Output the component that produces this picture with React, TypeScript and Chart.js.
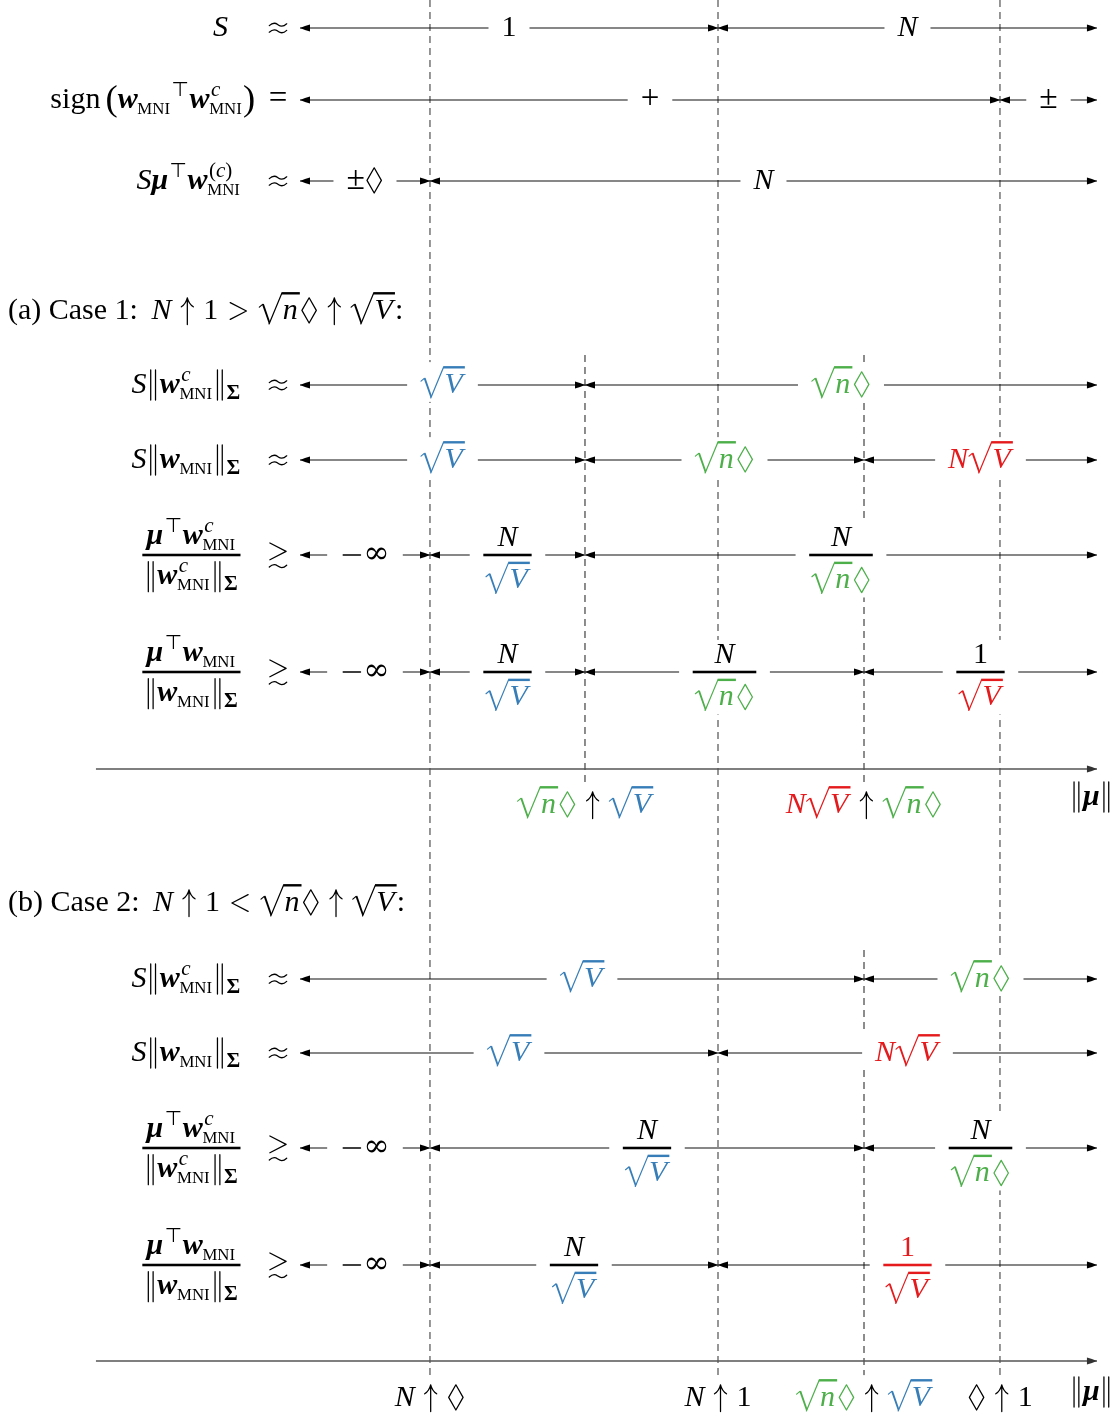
import React, { useEffect, useRef } from "react";
import { Chart, registerables } from "chart.js";

Chart.register(...registerables);

// ------------------------------------------------------------------
// DATA (positions on the ||mu|| axis are given in abstract units:
// every row arrow runs from MU_START to MU_END)
// ------------------------------------------------------------------
const MU_START = 0;
const MU_END = 100;

// thresholds on the ||mu|| axis:  N↑◊ , (a) √n◊↑√V , N↑1 , √n◊↑√V / N√V↑√n◊ , ◊↑1
const thresholdValues = [16.31, 35.76, 52.45, 70.77, 87.83];
const [T_NDIA, T_A, T_N1, T_B, T_DIA1] = thresholdValues;

// coloured building blocks
const SQV = "\\c{blue}{\\sqrt{V}}";
const SQND = "\\c{green}{\\sqrt{n}\\Diamond}";
const NSQV = "\\c{red}{N\\sqrt{V}}";
const NEGINF = "-\\infty";
const N_OVER_SQV = "\\frac{N}{" + SQV + "}";
const N_OVER_SQND = "\\frac{N}{" + SQND + "}";

// top block
const topRowNames = [
  "S\\quad\\;",
  "\\text{sign}\\,\\big{(}{\\bm{w}_{\\sc{MNI}}}^{\\top}\\bm{w}^{c}_{\\sc{MNI}}\\big{)}\\;\\,",
  "S\\bm{\\mu}^{\\top}\\bm{w}^{(c)}_{\\sc{MNI}}\\;\\;\\;",
];
const topRowRelations = ["\\approx", "=", "\\approx"];
const topRowBreaks = [
  [MU_START, T_N1, MU_END],
  [MU_START, T_DIA1, MU_END],
  [MU_START, T_NDIA, MU_END],
];
const topRowSegmentLabels = [
  ["1", "N"],
  ["+", "\\pm"],
  ["\\pm\\Diamond", "N"],
];

// rows shared by case 1 and case 2
const caseRowNames = [
  "S\\|\\bm{w}^{c}_{\\sc{MNI}}\\|_{\\bm{\\Sigma}}\\;\\;\\;",
  "S\\|\\bm{w}_{\\sc{MNI}}\\|_{\\bm{\\Sigma}}\\;\\;\\;",
  "\\frac{\\bm{\\mu}^{\\top}\\bm{w}^{c}_{\\sc{MNI}}}{\\|\\bm{w}^{c}_{\\sc{MNI}}\\|_{\\bm{\\Sigma}}}\\;\\;\\;",
  "\\frac{\\bm{\\mu}^{\\top}\\bm{w}_{\\sc{MNI}}}{\\|\\bm{w}_{\\sc{MNI}}\\|_{\\bm{\\Sigma}}}\\;\\;\\;",
];
const caseRowRelations = ["\\approx", "\\approx", "\\gtrsim", "\\gtrsim"];

const caseTitles = [
  "\\text{(a) Case 1:}\\;\\,N\\uparrow 1>\\sqrt{n}\\Diamond\\uparrow\\sqrt{V}:",
  "\\text{(b) Case 2:}\\;\\,N\\uparrow 1<\\sqrt{n}\\Diamond\\uparrow\\sqrt{V}:",
];

// case 1
const case1Breaks = [
  [MU_START, T_A, MU_END],
  [MU_START, T_A, T_B, MU_END],
  [MU_START, T_NDIA, T_A, MU_END],
  [MU_START, T_NDIA, T_A, T_B, MU_END],
];
const case1SegmentLabels = [
  [SQV, SQND],
  [SQV, SQND, NSQV],
  [NEGINF, N_OVER_SQV, N_OVER_SQND],
  [NEGINF, N_OVER_SQV, N_OVER_SQND, "\\frac{1}{\\c{red}{\\sqrt{V}}}"],
];
const case1TickValues = [T_A, T_B];
const case1TickLabels = [SQND + "\\uparrow" + SQV, NSQV + "\\uparrow" + SQND];

// case 2
const case2Breaks = [
  [MU_START, T_B, MU_END],
  [MU_START, T_N1, MU_END],
  [MU_START, T_NDIA, T_B, MU_END],
  [MU_START, T_NDIA, T_N1, MU_END],
];
const case2SegmentLabels = [
  [SQV, SQND],
  [SQV, NSQV],
  [NEGINF, N_OVER_SQV, N_OVER_SQND],
  [NEGINF, N_OVER_SQV, "\\c{red}{\\frac{1}{\\sqrt{V}}}"],
];
const case2TickValues = [T_NDIA, T_N1, T_B, T_DIA1];
const case2TickLabels = ["N\\uparrow\\Diamond", "N\\uparrow 1", SQND + "\\uparrow" + SQV, "\\Diamond\\uparrow 1"];

const longGuideValues = [T_NDIA, T_N1, T_DIA1];
const case1GuideValues = [T_A, T_B];
const case2GuideValues = [T_B];
const AXIS_NAME = "\\|\\bm{\\mu}\\|";

// ------------------------------------------------------------------
// LAYOUT / STYLE
// ------------------------------------------------------------------
const W = 1120;
const H = 1418;
const X_MIN = -37.64;
const X_MAX = 102.89;
const REL_X = -2.76;
const TITLE_X = -36.64;
const AXIS_LINE_START = -25.6;
const MU_LABEL_X = 99.3;

const TOP_ROWS_Y = [28, 100, 181];
const C1_TITLE_Y = 311;
const C1_ROWS_Y = [385, 460, 555, 672];
const C1_AXIS_Y = 769;
const C1_TICK_Y = 805;
const C1_MU_Y = 797;
const C2_TITLE_Y = 903;
const C2_ROWS_Y = [979, 1053, 1148, 1265];
const C2_AXIS_Y = 1361;
const C2_TICK_Y = 1398;
const C2_MU_Y = 1392;

const LONG_GUIDE_Y = [0, 1380];
const C1_GUIDE_Y = [355, 800];
const C2_GUIDE_Y = [950, 1392];

const COLORS: Record<string, string> = {
  blue: "#377eb8",
  green: "#4daf4a",
  red: "#e41a1c",
};
const FAMILY = '"Liberation Serif", "DejaVu Serif", "DejaVu Sans", serif';
const OPFAMILY = '"DejaVu Serif", "Liberation Serif", serif';
const BASE = 30;
const PADX = 13;
const PADY = 4;

// ------------------------------------------------------------------
// tiny TeX-like parser + box layout
// ------------------------------------------------------------------
type N =
  | { t: "ch"; c: string }
  | { t: "sym"; c: string; cls: string }
  | { t: "sp"; em: number }
  | { t: "grp"; k: N[] }
  | { t: "sqrt"; k: N[] }
  | { t: "frac"; n: N[]; d: N[] }
  | { t: "sty"; s: string; k: N[] }
  | { t: "col"; c: string; k: N[] }
  | { t: "txt"; s: string }
  | { t: "scr"; b: N | null; sub?: N[]; sup?: N[] };

const SYMS: Record<string, [string, string]> = {
  approx: ["≈", "rel"],
  gtrsim: ["≳", "rel"],
  uparrow: ["↑", "rel"],
  Diamond: ["◊", "ord"],
  pm: ["±", "ord"],
  infty: ["∞", "ord"],
  top: ["⊤", "ord"],
  mu: ["μ", "greek"],
  Sigma: ["Σ", "Greek"],
};

function parseTeX(s: string): N[] {
  let i = 0;
  const skip = () => {
    while (s[i] === " ") i++;
  };
  const readRaw = (): string => {
    skip();
    if (s[i] === "{") {
      const j = s.indexOf("}", i);
      const r = s.slice(i + 1, j);
      i = j + 1;
      return r;
    }
    return "";
  };
  const readArg = (): N[] => {
    skip();
    if (s[i] === "{") {
      i++;
      const r = seq("}");
      i++;
      return r;
    }
    const a = atom();
    return a ? [a] : [];
  };
  const atom = (): N | null => {
    const ch = s[i];
    if (ch === "\\") {
      i++;
      const c2 = s[i];
      if (c2 === "|") {
        i++;
        return { t: "sym", c: "‖", cls: "ord" };
      }
      if (c2 === ",") {
        i++;
        return { t: "sp", em: 0.17 };
      }
      if (c2 === ":") {
        i++;
        return { t: "sp", em: 0.22 };
      }
      if (c2 === ";") {
        i++;
        return { t: "sp", em: 0.28 };
      }
      let name = "";
      while (i < s.length && /[a-zA-Z]/.test(s[i])) name += s[i++];
      switch (name) {
        case "sqrt":
          return { t: "sqrt", k: readArg() };
        case "frac": {
          const n = readArg();
          const d = readArg();
          return { t: "frac", n, d };
        }
        case "bm":
        case "sc":
        case "big":
        case "rm":
          return { t: "sty", s: name, k: readArg() };
        case "text":
          return { t: "txt", s: readRaw() };
        case "c": {
          const c = readRaw();
          return { t: "col", c, k: readArg() };
        }
        case "quad":
          return { t: "sp", em: 1 };
        default: {
          const sym = SYMS[name];
          if (sym) return { t: "sym", c: sym[0], cls: sym[1] };
          return { t: "ch", c: name };
        }
      }
    }
    if (ch === "{") {
      i++;
      const r = seq("}");
      i++;
      return { t: "grp", k: r };
    }
    i++;
    if (ch === " ") return null;
    return { t: "ch", c: ch };
  };
  const seq = (end?: string): N[] => {
    const out: N[] = [];
    while (i < s.length && s[i] !== end) {
      if (s[i] === "_" || s[i] === "^") {
        const which = s[i];
        i++;
        const prev = out.pop() || null;
        let node: any;
        if (prev && prev.t === "scr") node = prev;
        else node = { t: "scr", b: prev };
        const arg = readArg();
        if (which === "_") node.sub = arg;
        else node.sup = arg;
        out.push(node);
        continue;
      }
      const a = atom();
      if (a) out.push(a);
    }
    return out;
  };
  return seq();
}

type St = { size: number; color: string; bm: boolean; rm: boolean };
interface Box {
  w: number;
  a: number;
  d: number;
  ic: number;
  draw: (ctx: CanvasRenderingContext2D, x: number, y: number) => void;
}

let measureCtx: CanvasRenderingContext2D | null = null;
function mc(): CanvasRenderingContext2D {
  if (!measureCtx) measureCtx = document.createElement("canvas").getContext("2d")!;
  return measureCtx;
}
function fontFor(size: number, italic: boolean, bold: boolean, family = FAMILY) {
  return `${italic ? "italic " : ""}${bold ? "bold " : ""}${size.toFixed(2)}px ${family}`;
}
function glyph(c: string, font: string, color: string, dy = 0): Box {
  const m = mc();
  m.font = font;
  const tm = m.measureText(c);
  return {
    w: tm.width,
    a: Math.max(0, tm.actualBoundingBoxAscent - dy),
    d: Math.max(0, tm.actualBoundingBoxDescent + dy),
    ic: 0,
    draw(ctx, x, y) {
      ctx.font = font;
      ctx.fillStyle = color;
      ctx.textAlign = "left";
      ctx.textBaseline = "alphabetic";
      ctx.fillText(c, x, y + dy);
    },
  };
}
function space(w: number): Box {
  return { w, a: 0, d: 0, ic: 0, draw() {} };
}
function hbox(bs: Box[]): Box {
  let w = 0,
    a = 0,
    d = 0;
  for (const b of bs) {
    w += b.w;
    a = Math.max(a, b.a);
    d = Math.max(d, b.d);
  }
  const ic = bs.length ? bs[bs.length - 1].ic : 0;
  return {
    w,
    a,
    d,
    ic,
    draw(ctx, x, y) {
      let cx = x;
      for (const b of bs) {
        b.draw(ctx, cx, y);
        cx += b.w;
      }
    },
  };
}
function isRel(n: N) {
  return (n.t === "sym" && n.cls === "rel") || (n.t === "ch" && "=<>".includes(n.c));
}
function hlist(nodes: N[], st: St): Box {
  const bs: Box[] = [];
  const main = st.size >= BASE * 0.95;
  nodes.forEach((n, idx) => {
    const rel = isRel(n) && main;
    if (rel && idx > 0) bs.push(space(0.28 * st.size));
    bs.push(layoutNode(n, st));
    if (rel && idx < nodes.length - 1) bs.push(space(0.28 * st.size));
  });
  return hbox(bs);
}

// hand-drawn glyphs (closer to Computer Modern than the system fonts)
function strokeBox(st: St, w: number, a: number, d: number, path: (ctx: CanvasRenderingContext2D, x: number, y: number, s: number) => void): Box {
  const s = st.size;
  return {
    w: w * s,
    a: a * s,
    d: d * s,
    ic: 0,
    draw(ctx, x, y) {
      ctx.save();
      ctx.strokeStyle = st.color;
      ctx.lineWidth = Math.max(1.05, 0.042 * s);
      ctx.lineCap = "round";
      ctx.lineJoin = "round";
      ctx.beginPath();
      path(ctx, x, y, s);
      ctx.stroke();
      ctx.restore();
    },
  };
}
function normBox(st: St): Box {
  return strokeBox(st, 0.44, 0.75, 0.25, (ctx, x, y, s) => {
    ctx.moveTo(x + 0.14 * s, y - 0.75 * s);
    ctx.lineTo(x + 0.14 * s, y + 0.25 * s);
    ctx.moveTo(x + 0.3 * s, y - 0.75 * s);
    ctx.lineTo(x + 0.3 * s, y + 0.25 * s);
  });
}
function upArrowBox(st: St): Box {
  return strokeBox(st, 0.5, 0.7, 0.2, (ctx, x, y, s) => {
    const cx = x + 0.25 * s;
    const top = y - 0.69 * s;
    ctx.moveTo(cx, y + 0.2 * s);
    ctx.lineTo(cx, top + 0.02 * s);
    ctx.moveTo(cx, top);
    ctx.quadraticCurveTo(cx - 0.05 * s, top + 0.2 * s, cx - 0.2 * s, top + 0.3 * s);
    ctx.moveTo(cx, top);
    ctx.quadraticCurveTo(cx + 0.05 * s, top + 0.2 * s, cx + 0.2 * s, top + 0.3 * s);
  });
}
function diamondBox(st: St): Box {
  return strokeBox(st, 0.62, 0.7, 0.16, (ctx, x, y, s) => {
    const cx = x + 0.31 * s;
    const cy = y - 0.27 * s;
    ctx.moveTo(cx, cy - 0.42 * s);
    ctx.lineTo(cx + 0.24 * s, cy);
    ctx.lineTo(cx, cy + 0.42 * s);
    ctx.lineTo(cx - 0.24 * s, cy);
    ctx.closePath();
  });
}
function ltgtBox(st: St, gt: boolean, dy = 0): Box {
  return strokeBox(st, 0.78, 0.56 - dy, 0.06 + dy, (ctx, x, y, s) => {
    const l = x + 0.12 * s;
    const r = x + 0.66 * s;
    const yy = y + dy * s;
    if (gt) {
      ctx.moveTo(l, yy - 0.53 * s);
      ctx.lineTo(r, yy - 0.25 * s);
      ctx.lineTo(l, yy + 0.03 * s);
    } else {
      ctx.moveTo(r, yy - 0.53 * s);
      ctx.lineTo(l, yy - 0.25 * s);
      ctx.lineTo(r, yy + 0.03 * s);
    }
  });
}
function minusBox(st: St): Box {
  return strokeBox(st, 0.78, 0.27, 0, (ctx, x, y, s) => {
    ctx.moveTo(x + 0.1 * s, y - 0.25 * s);
    ctx.lineTo(x + 0.68 * s, y - 0.25 * s);
  });
}
function approxBox(st: St): Box {
  return strokeBox(st, 0.78, 0.45, 0, (ctx, x, y, s) => {
    const l = x + 0.1 * s;
    const r = x + 0.68 * s;
    for (const cy of [y - 0.36 * s, y - 0.14 * s]) {
      ctx.moveTo(l, cy + 0.03 * s);
      ctx.bezierCurveTo(l + 0.16 * s, cy - 0.12 * s, l + 0.26 * s, cy - 0.02 * s, (l + r) / 2, cy);
      ctx.bezierCurveTo(r - 0.26 * s, cy + 0.02 * s, r - 0.16 * s, cy + 0.12 * s, r, cy - 0.03 * s);
    }
  });
}
function tildeBox(st: St, dy: number): Box {
  return strokeBox(st, 0.78, 0, 0.3, (ctx, x, y, s) => {
    const l = x + 0.1 * s;
    const r = x + 0.68 * s;
    const cy = y + dy * s;
    ctx.moveTo(l, cy + 0.03 * s);
    ctx.bezierCurveTo(l + 0.16 * s, cy - 0.12 * s, l + 0.26 * s, cy - 0.02 * s, (l + r) / 2, cy);
    ctx.bezierCurveTo(r - 0.26 * s, cy + 0.02 * s, r - 0.16 * s, cy + 0.12 * s, r, cy - 0.03 * s);
  });
}
function gtrsimBox(st: St): Box {
  const gt = ltgtBox(st, true, -0.12);
  const ti = tildeBox(st, 0.12);
  const w = Math.max(gt.w, ti.w);
  return {
    w,
    a: Math.max(gt.a, ti.a),
    d: Math.max(gt.d, ti.d),
    ic: 0,
    draw(ctx, x, y) {
      gt.draw(ctx, x, y);
      ti.draw(ctx, x, y);
    },
  };
}

function charBox(c: string, st: St): Box {
  if (c === ">" || c === "<") return ltgtBox(st, c === ">");
  if (c === "-") return minusBox(st);
  if (c === "+" || c === "=") return glyph(c, fontFor(st.size * 1.1, false, false), st.color);
  const letter = /^[A-Za-z]$/.test(c);
  const italic = letter && !st.rm;
  const b = glyph(c, fontFor(st.size, italic, st.bm), st.color);
  if (italic) b.ic = 0.05 * st.size;
  return b;
}
function sqrtBox(body: Box, st: St): Box {
  const s = st.size;
  const top = Math.max(body.a + 0.15 * s, 0.84 * s);
  const bot = 0.18 * s;
  const rw = 0.78 * s;
  const lw = Math.max(1.6, 0.08 * s);
  const w = rw + body.w + 0.1 * s;
  return {
    w,
    a: top + lw / 2,
    d: Math.max(body.d, bot),
    ic: 0,
    draw(ctx, x, y) {
      ctx.save();
      ctx.strokeStyle = st.color;
      ctx.fillStyle = st.color;
      ctx.lineCap = "round";
      ctx.lineJoin = "round";
      ctx.lineWidth = 0.04 * s;
      ctx.beginPath();
      ctx.moveTo(x + 0.03 * s, y - 0.38 * s);
      ctx.lineTo(x + 0.14 * s, y - 0.47 * s);
      ctx.stroke();
      ctx.beginPath();
      ctx.moveTo(x + 0.12 * s, y - 0.47 * s);
      ctx.lineTo(x + 0.18 * s, y - 0.49 * s);
      ctx.lineTo(x + 0.39 * s, y + bot - 0.06 * s);
      ctx.lineTo(x + 0.35 * s, y + bot);
      ctx.closePath();
      ctx.fill();
      ctx.lineWidth = 0.04 * s;
      ctx.beginPath();
      ctx.moveTo(x + 0.355 * s, y + bot);
      ctx.lineTo(x + rw, y - top);
      ctx.stroke();
      ctx.fillRect(x + rw - 0.01 * s, y - top - lw / 2, w - rw + 0.01 * s, lw);
      ctx.restore();
      body.draw(ctx, x + rw + 0.03 * s, y);
    },
  };
}
function fracBox(nb: Box, db: Box, st: St): Box {
  const s = st.size;
  const axis = 0.25 * s;
  const th = Math.max(1.6, 0.085 * s);
  const w = Math.max(nb.w, db.w) + 0.16 * s;
  const numBase = axis + th / 2 + Math.max(0.26 * s, 0.12 * s + nb.d);
  const denBase = -axis + th / 2 + 0.18 * s + db.a;
  return {
    w,
    a: numBase + nb.a,
    d: denBase + db.d,
    ic: 0,
    draw(ctx, x, y) {
      nb.draw(ctx, x + (w - nb.w) / 2, y - numBase);
      db.draw(ctx, x + (w - db.w) / 2, y + denBase);
      ctx.fillStyle = st.color;
      ctx.fillRect(x + 0.02 * s, y - axis - th / 2, w - 0.04 * s, th);
    },
  };
}
function scriptBox(b: Box, sub: N[] | undefined, sup: N[] | undefined, st: St): Box {
  const s = st.size;
  const ss: St = { ...st, size: Math.max(s * 0.7, BASE * 0.5) };
  const supB = sup ? hlist(sup, ss) : null;
  const subB = sub ? hlist(sub, ss) : null;
  const up = 0.4 * s;
  const down = 0.2 * s;
  const w = b.w + Math.max(supB ? supB.w + b.ic : 0, subB ? subB.w : 0) + 0.03 * s;
  const a = Math.max(b.a, supB ? up + supB.a : 0, subB ? subB.a - down : 0);
  const d = Math.max(b.d, subB ? down + subB.d : 0, supB ? supB.d - up : 0);
  return {
    w,
    a,
    d,
    ic: 0,
    draw(ctx, x, y) {
      b.draw(ctx, x, y);
      if (supB) supB.draw(ctx, x + b.w + b.ic, y - up);
      if (subB) subB.draw(ctx, x + b.w - b.ic * 0.2, y + down);
    },
  };
}
function layoutNode(n: N, st: St): Box {
  switch (n.t) {
    case "ch":
      return charBox(n.c, st);
    case "sym": {
      if (n.c === "‖") return normBox(st);
      if (n.c === "↑") return upArrowBox(st);
      if (n.c === "◊") return diamondBox(st);
      if (n.c === "≳") return gtrsimBox(st);
      if (n.c === "≈") return approxBox(st);
      if (n.c === "∞") return glyph(n.c, fontFor(st.size * 1.05, false, false, OPFAMILY), st.color);
      if (n.c === "±") return glyph(n.c, fontFor(st.size * 1.12, false, false), st.color);
      if (n.c === "⊤") return glyph(n.c, fontFor(st.size * 0.95, false, false, '"DejaVu Sans", sans-serif'), st.color);
      const italic = n.cls === "greek";
      const b = glyph(n.c, fontFor(st.size, italic, st.bm), st.color);
      if (italic) b.ic = 0.04 * st.size;
      return b;
    }
    case "sp":
      return space(n.em * st.size);
    case "grp":
      return hlist(n.k, st);
    case "sqrt":
      return sqrtBox(hlist(n.k, st), st);
    case "frac":
      return fracBox(hlist(n.n, st), hlist(n.d, st), st);
    case "txt":
      return glyph(n.s, fontFor(st.size, false, st.bm), st.color);
    case "col":
      return hlist(n.k, { ...st, color: COLORS[n.c] || n.c });
    case "sty": {
      if (n.s === "bm") return hlist(n.k, { ...st, bm: true });
      if (n.s === "rm") return hlist(n.k, { ...st, rm: true });
      if (n.s === "sc") return hlist(n.k, { ...st, rm: true, bm: false, size: st.size * 0.8 });
      if (n.s === "big") {
        const inner = hlist(n.k, { ...st, size: st.size * 1.22 });
        const sh = 0.07 * st.size;
        return {
          w: inner.w,
          a: inner.a - sh,
          d: inner.d + sh,
          ic: 0,
          draw(ctx, x, y) {
            inner.draw(ctx, x, y + sh);
          },
        };
      }
      return hlist(n.k, st);
    }
    case "scr": {
      const b = n.b ? layoutNode(n.b, st) : space(0);
      return scriptBox(b, n.sub, n.sup, st);
    }
  }
  return space(0);
}
function texBox(tex: string): Box {
  return hlist(parseTeX(tex), { size: BASE, color: "#000", bm: false, rm: false });
}

// ------------------------------------------------------------------
// labels, derived from the data arrays
// ------------------------------------------------------------------
type Lbl = { tex: string; rel?: string; x: number; y: number; align: "left" | "center" | "rel"; bg: boolean };
type Row = { y: number; name: string; rel: string; breaks: number[]; segs: string[] };

function buildRows(): Row[] {
  const rows: Row[] = [];
  TOP_ROWS_Y.forEach((y, i) =>
    rows.push({ y, name: topRowNames[i], rel: topRowRelations[i], breaks: topRowBreaks[i], segs: topRowSegmentLabels[i] })
  );
  C1_ROWS_Y.forEach((y, i) =>
    rows.push({ y, name: caseRowNames[i], rel: caseRowRelations[i], breaks: case1Breaks[i], segs: case1SegmentLabels[i] })
  );
  C2_ROWS_Y.forEach((y, i) =>
    rows.push({ y, name: caseRowNames[i], rel: caseRowRelations[i], breaks: case2Breaks[i], segs: case2SegmentLabels[i] })
  );
  return rows;
}

function buildLabels(rows: Row[]): Lbl[] {
  const out: Lbl[] = [];
  rows.forEach((r) => {
    out.push({ tex: r.name, rel: r.rel, x: REL_X, y: r.y, align: "rel", bg: false });
    for (let k = 0; k < r.segs.length; k++) {
      out.push({ tex: r.segs[k], x: (r.breaks[k] + r.breaks[k + 1]) / 2, y: r.y, align: "center", bg: true });
    }
  });
  out.push({ tex: caseTitles[0], x: TITLE_X, y: C1_TITLE_Y, align: "left", bg: false });
  out.push({ tex: caseTitles[1], x: TITLE_X, y: C2_TITLE_Y, align: "left", bg: false });
  case1TickValues.forEach((v, i) => out.push({ tex: case1TickLabels[i], x: v, y: C1_TICK_Y, align: "center", bg: true }));
  case2TickValues.forEach((v, i) => out.push({ tex: case2TickLabels[i], x: v, y: C2_TICK_Y, align: "center", bg: true }));
  out.push({ tex: AXIS_NAME, x: MU_LABEL_X, y: C1_MU_Y, align: "center", bg: false });
  out.push({ tex: AXIS_NAME, x: MU_LABEL_X, y: C2_MU_Y, align: "center", bg: false });
  return out;
}

function drawLabel(ctx: CanvasRenderingContext2D, L: Lbl, px: number, py: number) {
  const baseline = py + 0.25 * BASE;
  if (L.align === "rel") {
    const rb = texBox(L.rel || "");
    const nb = texBox(L.tex);
    rb.draw(ctx, px - rb.w / 2, baseline);
    nb.draw(ctx, px - rb.w / 2 - nb.w, baseline);
    return;
  }
  const box = texBox(L.tex);
  const left = L.align === "center" ? px - box.w / 2 : px;
  if (L.bg) {
    ctx.fillStyle = "#ffffff";
    ctx.fillRect(left - PADX, baseline - box.a - PADY, box.w + 2 * PADX, box.a + box.d + 2 * PADY);
  }
  box.draw(ctx, left, baseline);
}

function arrowHead(ctx: CanvasRenderingContext2D, x: number, y: number, dir: number, color: string) {
  const L = 10;
  const Wd = 3.6;
  ctx.fillStyle = color;
  ctx.beginPath();
  ctx.moveTo(x, y);
  ctx.quadraticCurveTo(x - dir * L * 0.5, y - Wd * 0.62, x - dir * L, y - Wd);
  ctx.lineTo(x - dir * L, y + Wd);
  ctx.quadraticCurveTo(x - dir * L * 0.5, y + Wd * 0.62, x, y);
  ctx.closePath();
  ctx.fill();
}

export default function App() {
  const ref = useRef<HTMLCanvasElement>(null);
  useEffect(() => {
    document.body.style.margin = "0";
    document.body.style.background = "#fff";
    const rows = buildRows();
    const labels = buildLabels(rows);
    const datasets: any[] = [];

    longGuideValues.forEach((v) =>
      datasets.push({
        kind: "guide",
        data: [{ x: v, y: LONG_GUIDE_Y[0] }, { x: v, y: LONG_GUIDE_Y[1] }],
        borderColor: "#5f5f5f",
        borderWidth: 1.3,
        borderDash: [7, 5],
      })
    );
    case1GuideValues.forEach((v) =>
      datasets.push({
        kind: "guide",
        data: [{ x: v, y: C1_GUIDE_Y[0] }, { x: v, y: C1_GUIDE_Y[1] }],
        borderColor: "#1a1a1a",
        borderWidth: 1.0,
        borderDash: [7, 5],
      })
    );
    case2GuideValues.forEach((v) =>
      datasets.push({
        kind: "guide",
        data: [{ x: v, y: C2_GUIDE_Y[0] }, { x: v, y: C2_GUIDE_Y[1] }],
        borderColor: "#1a1a1a",
        borderWidth: 1.0,
        borderDash: [7, 5],
      })
    );
    [C1_AXIS_Y, C2_AXIS_Y].forEach((y) =>
      datasets.push({
        kind: "axis",
        data: [{ x: AXIS_LINE_START, y }, { x: MU_END, y }],
        borderColor: "#555555",
        borderWidth: 1.6,
      })
    );
    rows.forEach((r) => {
      for (let k = 0; k < r.breaks.length - 1; k++) {
        datasets.push({
          kind: "arrow",
          data: [{ x: r.breaks[k], y: r.y }, { x: r.breaks[k + 1], y: r.y }],
          borderColor: "#111111",
          borderWidth: 1.2,
        });
      }
    });
    datasets.forEach((d) => {
      d.showLine = true;
      d.pointRadius = 0;
      d.pointHoverRadius = 0;
      d.tension = 0;
      d.fill = false;
      d.order = d.kind === "guide" ? 10 : 1;
    });

    const diagramPlugin = {
      id: "diagram",
      afterDatasetsDraw(chart: any) {
        const ctx: CanvasRenderingContext2D = chart.ctx;
        const xs = chart.scales.x;
        const ys = chart.scales.y;
        ctx.save();
        labels.forEach((L) => drawLabel(ctx, L, xs.getPixelForValue(L.x), ys.getPixelForValue(L.y)));
        chart.data.datasets.forEach((ds: any, i: number) => {
          const meta = chart.getDatasetMeta(i);
          const p0 = meta.data[0];
          const p1 = meta.data[1];
          if (!p0 || !p1) return;
          if (ds.kind === "arrow") {
            arrowHead(ctx, p0.x, p0.y, -1, "#000");
            arrowHead(ctx, p1.x, p1.y, 1, "#000");
          } else if (ds.kind === "axis") {
            arrowHead(ctx, p1.x, p1.y, 1, "#333");
          }
        });
        ctx.restore();
      },
    };

    const chart = new Chart(ref.current!, {
      type: "scatter",
      data: { datasets },
      options: {
        animation: false,
        responsive: false,
        maintainAspectRatio: false,
        events: [],
        layout: { padding: 0 },
        plugins: { legend: { display: false }, tooltip: { enabled: false } },
        scales: {
          x: { type: "linear", min: X_MIN, max: X_MAX, display: false },
          y: { type: "linear", min: 0, max: H, reverse: true, display: false },
        },
      },
      plugins: [diagramPlugin],
    } as any);
    return () => chart.destroy();
  }, []);
  return <canvas ref={ref} width={W} height={H} style={{ display: "block", width: W, height: H }} />;
}
